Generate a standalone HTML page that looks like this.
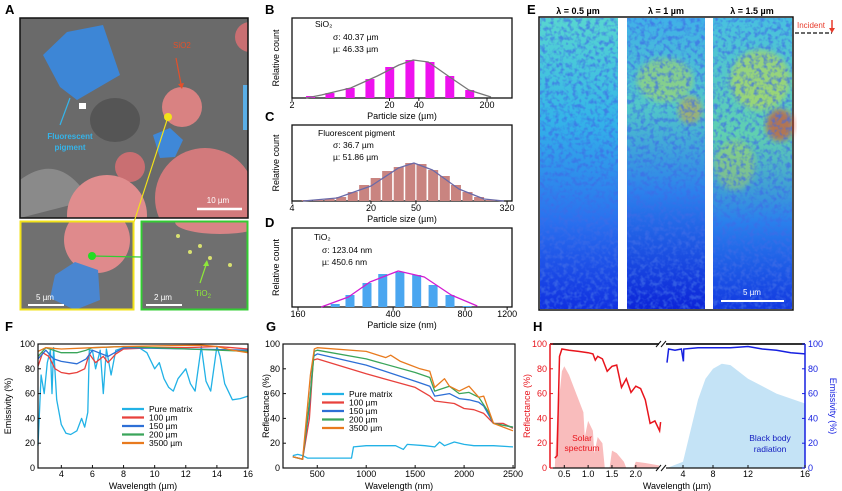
<!DOCTYPE html>
<html><head><meta charset="utf-8">
<style>
html,body{margin:0;padding:0;background:#fff;}
svg{display:block;font-family:"Liberation Sans",Arial,sans-serif;}
</style></head>
<body>
<svg id="fig" width="842" height="491" viewBox="0 0 842 491" xmlns="http://www.w3.org/2000/svg">
<defs>
 <linearGradient id="g1" x1="0" y1="0" x2="0" y2="1"><stop offset="0" stop-color="#58d6d0"/><stop offset="0.35" stop-color="#34b4e8"/><stop offset="0.7" stop-color="#2a70ee"/><stop offset="1" stop-color="#1030e0"/></linearGradient>
 <linearGradient id="g2" x1="0" y1="0" x2="0" y2="1"><stop offset="0" stop-color="#40b0e8"/><stop offset="0.3" stop-color="#52c8c8"/><stop offset="0.6" stop-color="#2c80ec"/><stop offset="1" stop-color="#0c24d8"/></linearGradient>
 <linearGradient id="g3" x1="0" y1="0" x2="0" y2="1"><stop offset="0" stop-color="#48c0e0"/><stop offset="0.4" stop-color="#60d0b0"/><stop offset="0.7" stop-color="#2a80ec"/><stop offset="1" stop-color="#1238e0"/></linearGradient>
 <filter id="noise" x="0" y="0" width="100%" height="100%"><feTurbulence type="fractalNoise" baseFrequency="0.22" numOctaves="2" seed="3"/><feColorMatrix type="matrix" values="0 0 0 0 0.05  0 0 0 0 0.15  0 0 0 0 0.8  0 0 0 -3 1.7"/></filter>
 <filter id="blur2"><feGaussianBlur stdDeviation="3"/></filter>
 <clipPath id="clipA"><rect x="20" y="18" width="228" height="200"/></clipPath>
 <clipPath id="clipA2"><rect x="20" y="221" width="114" height="89"/></clipPath>
 <clipPath id="clipA3"><rect x="141" y="221" width="107" height="89"/></clipPath>
</defs>

<!-- Panel A -->
<text x="5" y="14" font-size="13" font-weight="bold">A</text>
<g clip-path="url(#clipA)">
 <rect x="20" y="18" width="228" height="200" fill="#6a6a6a"/>
 <ellipse cx="115" cy="120" rx="25" ry="22" fill="#555"/>
 <path d="M20 180 Q60 150 90 200 L20 218 Z" fill="#8a8a8a"/>
 <polygon points="43,55 67,32 103,25 120,75 77,100 60,87" fill="#3d86d6"/>
 <rect x="79" y="103" width="7" height="6" fill="#fff"/>
 <circle cx="182" cy="107" r="20" fill="#d98282"/>
 <circle cx="130" cy="167" r="15" fill="#c96f72"/>
 <polygon points="153,135 170,128 183,140 175,157 160,158" fill="#3f88d8"/>
 <circle cx="205" cy="198" r="50" fill="#d27a7c"/>
 <circle cx="107" cy="215" r="40" fill="#e08d8e"/>
 <circle cx="250" cy="37" r="15" fill="#c96f72"/>
 <rect x="243" y="85" width="8" height="45" fill="#5aaee6"/>
</g>
<rect x="20" y="18" width="228" height="200" fill="none" stroke="#111" stroke-width="1.5"/>
<text x="173" y="48" font-size="8" fill="#e4502a">SiO2</text>
<line x1="176" y1="58" x2="181" y2="84" stroke="#e4502a" stroke-width="1.2"/>
<polygon points="178,84 184,83 182,89" fill="#e4502a"/>
<line x1="60" y1="125" x2="70" y2="98" stroke="#35b4ea" stroke-width="1.2"/>
<text x="70" y="139" font-size="8" fill="#35b4ea" font-weight="bold" text-anchor="middle">Fluorescent</text>
<text x="70" y="150" font-size="8" fill="#35b4ea" font-weight="bold" text-anchor="middle">pigment</text>
<line x1="197" y1="209" x2="242" y2="209" stroke="#fff" stroke-width="2.5"/>
<text x="218" y="203" font-size="8" fill="#fff" text-anchor="middle">10 µm</text>

<g clip-path="url(#clipA2)">
 <rect x="20" y="221" width="114" height="89" fill="#707070"/>
 <circle cx="97" cy="240" r="33" fill="#df8a8c"/>
 <polygon points="55,275 75,262 98,270 100,300 75,310 50,298" fill="#4a86d0"/>
</g>
<rect x="20.5" y="221.5" width="113" height="88" fill="none" stroke="#f2e21a" stroke-width="2"/>
<line x1="28" y1="305" x2="64" y2="305" stroke="#fff" stroke-width="2"/>
<text x="45" y="300" font-size="8" fill="#fff" text-anchor="middle">5 µm</text>

<g clip-path="url(#clipA3)">
 <rect x="141" y="221" width="107" height="89" fill="#6f6f6f"/>
 <ellipse cx="220" cy="222" rx="45" ry="12" fill="#d88486"/>
 <circle cx="190" cy="252" r="2" fill="#d8e070"/><circle cx="200" cy="246" r="2" fill="#d8e070"/><circle cx="210" cy="258" r="2" fill="#d8e070"/><circle cx="230" cy="265" r="2" fill="#d8e070"/><circle cx="178" cy="236" r="2" fill="#d8e070"/>
</g>
<rect x="141.5" y="221.5" width="106" height="88" fill="none" stroke="#33cc33" stroke-width="2"/>
<line x1="168" y1="117" x2="134" y2="222" stroke="#f2e21a" stroke-width="1.2"/>
<circle cx="168" cy="117" r="4" fill="#f2e21a"/>
<line x1="92" y1="256" x2="141" y2="257" stroke="#33cc33" stroke-width="1.2"/>
<circle cx="92" cy="256" r="4" fill="#22dd22"/>
<line x1="200" y1="283" x2="206" y2="265" stroke="#8ee83a" stroke-width="1.2"/>
<polygon points="203,266 209,266 207,260" fill="#8ee83a"/>
<text x="195" y="296" font-size="8" fill="#8ee83a">TiO<tspan font-size="6" dy="2">2</tspan></text>
<line x1="146" y1="305" x2="182" y2="305" stroke="#fff" stroke-width="2"/>
<text x="163" y="300" font-size="8" fill="#fff" text-anchor="middle">2 µm</text>

<!-- Panel E -->
<text x="527" y="14" font-size="13" font-weight="bold">E</text>
<rect x="539" y="17" width="254" height="293" fill="#fff" stroke="#111" stroke-width="1.5"/>
<g>
 <rect x="540" y="18" width="78" height="291" fill="url(#g1)"/>
 <rect x="540" y="18" width="78" height="291" filter="url(#noise)" opacity="0.7"/>
</g>
<g>
 <rect x="627" y="18" width="78" height="291" fill="url(#g2)"/>
 <ellipse cx="665" cy="80" rx="28" ry="22" fill="#c8e040" opacity="0.45" filter="url(#blur2)"/>
 <ellipse cx="690" cy="110" rx="12" ry="14" fill="#e8a020" opacity="0.5" filter="url(#blur2)"/>
 <rect x="627" y="18" width="78" height="291" filter="url(#noise)" opacity="0.7"/>
</g>
<g>
 <rect x="713" y="18" width="79" height="291" fill="url(#g3)"/>
 <ellipse cx="760" cy="80" rx="30" ry="30" fill="#d8e030" opacity="0.5" filter="url(#blur2)"/>
 <ellipse cx="780" cy="125" rx="14" ry="16" fill="#e83a18" opacity="0.6" filter="url(#blur2)"/>
 <ellipse cx="735" cy="165" rx="20" ry="25" fill="#c8e040" opacity="0.4" filter="url(#blur2)"/>
 <rect x="713" y="18" width="79" height="291" filter="url(#noise)" opacity="0.7"/>
</g>
<text x="578" y="14" font-size="9" font-weight="bold" text-anchor="middle">λ = 0.5 µm</text>
<text x="666" y="14" font-size="9" font-weight="bold" text-anchor="middle">λ = 1 µm</text>
<text x="752" y="14" font-size="9" font-weight="bold" text-anchor="middle">λ = 1.5 µm</text>
<line x1="721" y1="301" x2="784" y2="301" stroke="#fff" stroke-width="2"/>
<text x="752" y="295" font-size="8" fill="#fff" text-anchor="middle">5 µm</text>
<text x="797" y="28" font-size="8" fill="#e83a2a">Incident</text>
<line x1="795" y1="33" x2="832" y2="33" stroke="#111" stroke-width="1.2" stroke-dasharray="4,2"/>
<line x1="832" y1="20" x2="832" y2="29" stroke="#e83a2a" stroke-width="1.5"/>
<polygon points="829,28 835,28 832,33" fill="#e83a2a"/>
</svg>

<script>
// ---------- data ----------
const bSizes=[3.1,4.9,7.9,12.6,20.1,32.4,52,83,133];
const bCounts=[2,5,10,19,31,38,36,22,8];
const bFitX=[2.8,4,8,15,25,35,50,80,130,220];
const bFitY=[0,3,10,22,33,38,36,22,8,1];
const cSizes=[5.4,6.8,8.6,10.9,13.8,17.4,22,27.8,35.2,44.5,56,71,90,113,143,181,229];
const cCounts=[1,1,2,4,9,16,23,30,34,38,37,31,25,16,9,4,1];
const cFitX=[5,10,20,35,48,70,120,200,300];
const cFitY=[0,3,15,33,38,31,12,2,0];
const dSizes=[229,264,311,362,427,502,588,692,816];
const dCounts=[3,12,24,33,35,32,22,12,1];
const dFitX=[200,260,320,420,540,700,900];
const dFitY=[0,10,25,36,30,12,1];

const fPure=[[2.5,18],[2.7,75],[2.9,60],[3.1,85],[3.3,95],[3.4,60],[3.5,97],[3.7,55],[4,35],[4.3,28],[4.6,27],[5,30],[5.3,40],[5.5,33],[5.7,45],[5.8,95],[6,95],[6.2,80],[6.5,95],[6.7,60],[6.9,96],[7.2,75],[7.5,95],[8,97],[9,97],[9.5,93],[10,80],[10.3,85],[10.6,72],[10.9,65],[11.2,62],[11.5,72],[12,80],[12.3,68],[12.6,62],[13,98],[13.3,70],[13.6,62],[14,98],[14.2,90],[14.5,68],[15,55],[15.5,56],[16,58]];
const f100=[[2.5,82],[2.8,93],[3.2,90],[3.6,80],[4,77],[4.5,76],[5,77],[5.5,80],[5.8,92],[6.2,85],[6.7,90],[7,85],[7.5,92],[8,96],[10,97],[12,97],[14,98],[15,97],[16,96]];
const f150=[[2.5,88],[3,95],[3.5,88],[4,86],[5,84],[5.6,88],[6,95],[7,90],[8,97],[16,95]];
const f200=[[2.5,90],[3,97],[4,93],[5,93],[5.6,95],[6,97],[8,98],[16,94]];
const f3500=[[2.5,94],[3,97],[4,96],[6,97],[8,98],[13,99],[14,98],[15,95],[16,93]];
const fTicksX=[4,6,8,10,12,14,16];
const yTicks=[0,20,40,60,80,100];

const gPure=[[250,10],[300,11],[350,10],[400,8],[500,8],[700,8],[850,8],[870,17],[1000,18],[1300,18],[1380,15],[1420,19],[1600,18],[1700,17],[1750,21],[1800,18],[1900,21],[2000,19],[2100,18],[2300,18],[2500,17]];
const g100=[[250,9],[350,7],[420,40],[460,87],[500,88],[1000,76],[1500,65],[1650,58],[1700,54],[1900,52],[2000,48],[2100,47],[2200,44],[2300,36],[2400,36],[2500,32]];
const g150=[[250,9],[350,7],[420,50],[460,90],[500,92],[1000,83],[1500,70],[1650,66],[1700,58],[1850,60],[1950,56],[2050,55],[2150,53],[2200,50],[2300,36],[2500,33]];
const g200=[[250,9],[350,7],[430,60],[470,94],[500,95],[1000,88],[1500,77],[1650,73],[1700,62],[1850,66],[1950,60],[2050,61],[2150,57],[2250,45],[2300,36],[2500,33]];
const g3500=[[250,9],[350,7],[430,75],[470,96],[500,97],[1000,94],[1200,89],[1250,91],[1350,86],[1450,83],[1550,80],[1650,78],[1700,65],[1800,72],[1850,66],[1950,62],[2050,66],[2150,57],[2200,58],[2300,36],[2500,30]];
const gTicksX=[500,1000,1500,2000,2500];

const hRefl=[[0.3,8],[0.35,10],[0.4,90],[0.45,96],[0.6,95],[0.8,94],[1.0,93],[1.1,92],[1.15,87],[1.2,90],[1.3,88],[1.4,78],[1.5,82],[1.6,83],[1.7,65],[1.8,72],[1.9,61],[2.0,66],[2.1,64],[2.2,55],[2.3,36],[2.4,38],[2.5,30],[2.52,37]];
const hEmis=[[3,85],[3.1,96],[3.5,95],[3.9,96],[4.05,86],[4.1,96],[6,97],[10,97],[12,98],[13,96],[14,95],[15,93],[16,92]];
const hSolar=[[0.3,0],[0.35,40],[0.45,78],[0.5,82],[0.6,75],[0.7,65],[0.8,55],[0.9,45],[0.93,25],[1.0,38],[1.1,30],[1.13,12],[1.2,25],[1.3,20],[1.35,0],[1.45,0],[1.5,14],[1.6,12],[1.75,5],[1.8,0],[1.95,0],[2.0,5],[2.2,4],[2.5,2],[2.6,0]];
const hBody=[[3,0],[4,5],[5,30],[6,55],[7,72],[8,80],[9,84],[10,83],[12,72],[14,60],[16,52]];
const hTicksL=[0.5,1.0,1.5,2.0];
const hTicksR=[4,8,12,16];
const hAnchorsR=[[3,667],[4,683],[8,713],[12,748],[16,805]];

// ---------- helpers ----------
const NS='http://www.w3.org/2000/svg';
const svg=document.getElementById('fig');
function mk(tag,attrs,parent){const e=document.createElementNS(NS,tag);for(const k in attrs)e.setAttribute(k,attrs[k]);(parent||svg).appendChild(e);return e;}
function txt(x,y,s,attrs){const e=mk('text',Object.assign({x:x,y:y,'font-size':9},attrs||{}));e.textContent=s;return e;}
function pathFrom(pts,sx,sy){return pts.map((p,i)=>(i?'L':'M')+sx(p[0]).toFixed(1)+' '+sy(p[1]).toFixed(1)).join(' ');}

// ---------- histograms ----------
function hist(cfg){
  const sx=s=>cfg.ox+cfg.ppd*Math.log10(s/cfg.o);
  const sy=v=>cfg.y1-v*(cfg.y1-cfg.y0)/cfg.ymax;
  const frame=mk('rect',{x:cfg.x0,y:cfg.y0,width:cfg.x1-cfg.x0,height:cfg.y1-cfg.y0,fill:'none',stroke:'#111','stroke-width':1.3});
  
  
  cfg.sizes.forEach((s,i)=>{
    const h=cfg.y1-sy(cfg.counts[i]);
    const b=mk('rect',{x:sx(s)-cfg.bw/2,y:sy(cfg.counts[i]),width:cfg.bw,height:h,fill:cfg.color});
    
    
  });
  const pts=cfg.fitX.map((x,i)=>[x,cfg.fitY[i]]);
  const c=mk('path',{d:pathFrom(pts,sx,sy),fill:'none',stroke:cfg.curve,'stroke-width':1.3,'stroke-linejoin':'round'});
  
  
  cfg.ticks.forEach(t=>{
    mk('line',{x1:sx(t),x2:sx(t),y1:cfg.y1,y2:cfg.y1+3,stroke:'#111'});
    const l=txt(sx(t),cfg.y1+10,String(t),{'text-anchor':'middle'});
    
    
  });
  const xt=txt((cfg.x0+cfg.x1)/2,cfg.y1+21,cfg.xtitle,{'text-anchor':'middle'});
  
  
  const cy=(cfg.y0+cfg.y1)/2;
  const yt=txt(279,cy,'Relative count',{'text-anchor':'middle',transform:'rotate(-90 279 '+cy+')'});
  
  
}
hist({name:'sio2-hist',x0:292,x1:512,y0:18,y1:98,ox:292,o:2,ppd:97.5,ymax:80,bw:9,color:'#ee11ee',curve:'#777',sizes:bSizes,counts:bCounts,fitX:bFitX,fitY:bFitY,ticks:[2,20,40,200],xtitle:'Particle size (µm)'});
hist({name:'pigment-hist',x0:292,x1:512,y0:125,y1:201,ox:292,o:4,ppd:113,ymax:76,bw:10,color:'#c98480',curve:'#6a6aa8',sizes:cSizes,counts:cCounts,fitX:cFitX,fitY:cFitY,ticks:[4,20,50,320],xtitle:'Particle size (µm)'});
hist({name:'tio2-hist',x0:292,x1:512,y0:228,y1:307,ox:298,o:160,ppd:239,ymax:79,bw:9,color:'#4aa6f0',curve:'#d21ad2',sizes:dSizes,counts:dCounts,fitX:dFitX,fitY:dFitY,ticks:[160,400,800,1200],xtitle:'Particle size (nm)'});

// ---------- line charts ----------
const TOP=344,BOT=468;
const sy=v=>BOT-v*(BOT-TOP)/100;
function lineChart(cfg){
  const sx=x=>cfg.x0+(x-cfg.d0)/(cfg.d1-cfg.d0)*(cfg.x1-cfg.x0);
  cfg.series.forEach(s=>{
    const p=mk('path',{d:pathFrom(s.data,sx,sy),fill:'none',stroke:s.color,'stroke-width':1.3,'stroke-linejoin':'round'});
    
    
  });
  const fr=mk('rect',{x:cfg.x0,y:TOP,width:cfg.x1-cfg.x0,height:BOT-TOP,fill:'none',stroke:'#111','stroke-width':1.2});
  
  
  cfg.xticks.forEach(t=>{
    mk('line',{x1:sx(t),x2:sx(t),y1:BOT,y2:BOT-3,stroke:'#111'});
    const l=txt(sx(t),BOT+9,String(t),{'text-anchor':'middle'});
    
    
  });
  yTicks.forEach(t=>{
    mk('line',{x1:cfg.x0,x2:cfg.x0+3,y1:sy(t),y2:sy(t),stroke:'#111'});
    const l=txt(cfg.x0-3,sy(t)+3,String(t),{'text-anchor':'end'});
    
    
  });
  const xt=txt((cfg.x0+cfg.x1)/2,489,cfg.xtitle,{'text-anchor':'middle'});
  
  
  const yc=(TOP+BOT)/2;
  const yt=txt(cfg.ytx,yc,cfg.ytitle,{'text-anchor':'middle',transform:'rotate(-90 '+cfg.ytx+' '+yc+')'});
  
  
  cfg.series.forEach((s,i)=>{
    const y=cfg.ly+i*8.5;
    const ls=mk('line',{x1:cfg.lx,x2:cfg.lx+22,y1:y,y2:y,stroke:s.color,'stroke-width':2.2});
    
    
    const lt=txt(cfg.lx+27,y+3,s.label,{'font-size':8.5});
    
    
  });
}
const COLS={pure:'#22b2e6',a:'#e8413c',b:'#2d6fd6',c:'#3aa55a',d:'#e87a1e'};
lineChart({name:'emissivity-chart',x0:38,x1:248,d0:2.5,d1:16,xticks:fTicksX,xtitle:'Wavelength (µm)',ytitle:'Emissivity (%)',ytx:11,lx:122,ly:409,
  series:[{key:'pure',label:'Pure matrix',color:COLS.pure,data:fPure},{key:'100',label:'100 µm',color:COLS.a,data:f100},{key:'150',label:'150 µm',color:COLS.b,data:f150},{key:'200',label:'200 µm',color:COLS.c,data:f200},{key:'3500',label:'3500 µm',color:COLS.d,data:f3500}]});
lineChart({name:'reflectance-chart',x0:283,x1:515,d0:150,d1:2520,xticks:gTicksX,xtitle:'Wavelength (nm)',ytitle:'Reflectance (%)',ytx:269,lx:322,ly:394,
  series:[{key:'pure',label:'Pure matrix',color:COLS.pure,data:gPure},{key:'100',label:'100 µm',color:COLS.a,data:g100},{key:'150',label:'150 µm',color:COLS.b,data:g150},{key:'200',label:'200 µm',color:COLS.c,data:g200},{key:'3500',label:'3500 µm',color:COLS.d,data:g3500}]});

// ---------- panel H ----------
const hxL=x=>550+(x-0.2)/(2.55-0.2)*(662-550);
function hxR(x){for(let i=1;i<hAnchorsR.length;i++){const a=hAnchorsR[i-1],b=hAnchorsR[i];if(x<=b[0]||i===hAnchorsR.length-1)return a[1]+(x-a[0])/(b[0]-a[0])*(b[1]-a[1]);}}
function area(pts,sx){return pathFrom(pts,sx,sy)+' L'+sx(pts[pts.length-1][0]).toFixed(1)+' '+BOT+' L'+sx(pts[0][0]).toFixed(1)+' '+BOT+' Z';}
const sol=mk('path',{d:area(hSolar,hxL),fill:'#f9bcbc'});


const bb=mk('path',{d:area(hBody,hxR),fill:'#c4e3f6'});


const rl=mk('path',{d:pathFrom(hRefl,hxL,sy),fill:'none',stroke:'#e8141c','stroke-width':1.5});


const el=mk('path',{d:pathFrom(hEmis,hxR,sy),fill:'none',stroke:'#1620e0','stroke-width':1.5});


const topAx=mk('line',{x1:550,x2:805,y1:TOP,y2:TOP,stroke:'#333','stroke-width':2});


const botAx=mk('line',{x1:550,x2:805,y1:BOT,y2:BOT,stroke:'#111','stroke-width':1.2});


const lAx=mk('line',{x1:550,x2:550,y1:TOP,y2:BOT,stroke:'#e8141c','stroke-width':1.5});


const rAx=mk('line',{x1:805,x2:805,y1:TOP,y2:BOT,stroke:'#1620e0','stroke-width':1.5});


[TOP,BOT].forEach(y=>{
  mk('rect',{x:659,y:y-3,width:7,height:6,fill:'#fff'});
  const b1=mk('path',{d:'M656 '+(y+3)+' L661 '+(y-3)+' M661 '+(y+3)+' L666 '+(y-3),stroke:'#111','stroke-width':1});
  
  
});
hTicksL.forEach(t=>{
  mk('line',{x1:hxL(t),x2:hxL(t),y1:BOT,y2:BOT-3,stroke:'#111'});
  const l=txt(hxL(t),BOT+9,t.toFixed(1),{'text-anchor':'middle'});
  
  
});
hTicksR.forEach(t=>{
  mk('line',{x1:hxR(t),x2:hxR(t),y1:BOT,y2:BOT-3,stroke:'#111'});
  const l=txt(hxR(t),BOT+9,String(t),{'text-anchor':'middle'});
  
  
});
yTicks.forEach(t=>{
  mk('line',{x1:550,x2:553,y1:sy(t),y2:sy(t),stroke:'#e8141c'});
  const l=txt(547,sy(t)+3,String(t),{'text-anchor':'end',fill:'#e8141c'});
  
  
  mk('line',{x1:802,x2:805,y1:sy(t),y2:sy(t),stroke:'#1620e0'});
  const r=txt(808,sy(t)+3,String(t),{fill:'#1620e0'});
  
  
});
const hx=txt(677,489,'Wavelength (µm)',{'text-anchor':'middle'});


const hyl=txt(530,406,'Reflectance (%)',{'text-anchor':'middle',fill:'#e8141c',transform:'rotate(-90 530 406)'});


const hyr=txt(830,406,'Emissivity (%)',{'text-anchor':'middle',fill:'#1620e0',transform:'rotate(90 830 406)'});


const s1=txt(582,441,'Solar',{'text-anchor':'middle',fill:'#e8141c','font-size':8.5});


txt(582,451,'spectrum',{'text-anchor':'middle',fill:'#e8141c','font-size':8.5});
const b2=txt(770,441,'Black body',{'text-anchor':'middle',fill:'#1620c0','font-size':8.5});


txt(770,452,'radiation',{'text-anchor':'middle',fill:'#1620c0','font-size':8.5});

// ---------- panel labels & annotations ----------
[['B',265,14],['C',265,121],['D',265,227],['F',5,331],['G',266,331],['H',533,331]].forEach(p=>{
  const l=txt(p[1],p[2],p[0],{'font-size':13,'font-weight':'bold'});
  
  
});
function ann(lines,name){lines.forEach((l,i)=>{const t=txt(l[0],l[1],l[2],{'font-size':8.5});
  
  });}
ann([[315,27,'SiO₂'],[333,40,'σ: 40.37 µm'],[333,52,'µ: 46.33 µm']],'sio2-stats');
ann([[318,136,'Fluorescent pigment'],[333,148,'σ: 36.7 µm'],[333,160,'µ: 51.86 µm']],'pigment-stats');
ann([[314,240,'TiO₂'],[322,253,'σ: 123.04 nm'],[322,265,'µ: 450.6 nm']],'tio2-stats');
</script>
</body></html>
